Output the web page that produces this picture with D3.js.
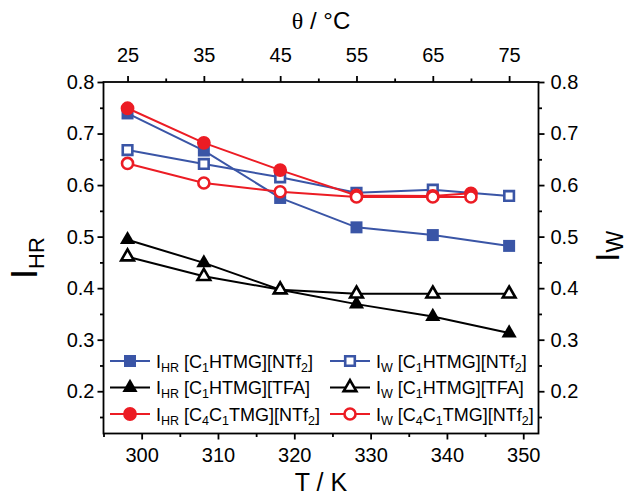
<!DOCTYPE html>
<html><head><meta charset="utf-8">
<script src="https://cdn.jsdelivr.net/npm/d3@7"></script>
<style>
html,body{margin:0;padding:0;background:#fff;}
svg{display:block;font-family:"Liberation Sans",Arial,Helvetica,sans-serif;}
</style></head>
<body>
<svg id="chart" width="630" height="498"></svg>
<script>
// ---- data ----
const tempK = [298.15, 308.15, 318.15, 328.15, 338.15, 348.15];
const tempKRed = [298.15, 308.15, 318.15, 328.15, 338.15, 343.15];
const ihrC1NTf2 = [0.739, 0.667, 0.575, 0.518, 0.503, 0.482];
const iwC1NTf2  = [0.668, 0.641, 0.615, 0.585, 0.591, 0.579];
const ihrC1TFA  = [0.494, 0.449, 0.397, 0.369, 0.345, 0.313];
const iwC1TFA   = [0.461, 0.423, 0.397, 0.389, 0.389, 0.389];
const ihrC4NTf2 = [0.749, 0.682, 0.629, 0.580, 0.579, 0.584];
const iwC4NTf2  = [0.642, 0.604, 0.587, 0.577, 0.577, 0.577];

const xTicksK = [300, 310, 320, 330, 340, 350];
const xMinorK = [295, 305, 315, 325, 335, 345];
const xTicksC = [25, 35, 45, 55, 65, 75];
const xMinorC = [30, 40, 50, 60, 70];
const yTicks = [0.2, 0.3, 0.4, 0.5, 0.6, 0.7, 0.8];
const yMinor = [0.15, 0.25, 0.35, 0.45, 0.55, 0.65, 0.75];

// legend labels: [text, isSubscript]
const labC1NTf2 = [["[C"],["1",1],["HTMG][NTf"],["2",1],["]"]];
const labC1TFA  = [["[C"],["1",1],["HTMG][TFA]"]];
const labC4NTf2 = [["[C"],["4",1],["C"],["1",1],["TMG][NTf"],["2",1],["]"]];

const BLUE = "#3a55a6", RED = "#ec1c24", BLACK = "#000";

const series = [
  {x: tempK, y: ihrC1NTf2, color: BLUE, sym: d3.symbolSquare, filled: true, pre: [["I"],["HR",1],[" "]], lab: labC1NTf2, col: 0, row: 0},
  {x: tempK, y: iwC1NTf2, color: BLUE, sym: d3.symbolSquare, filled: false, pre: [["I"],["W",1],[" "]], lab: labC1NTf2, col: 1, row: 0},
  {x: tempK, y: ihrC1TFA, color: BLACK, sym: d3.symbolTriangle, filled: true, pre: [["I"],["HR",1],[" "]], lab: labC1TFA, col: 0, row: 1},
  {x: tempK, y: iwC1TFA, color: BLACK, sym: d3.symbolTriangle, filled: false, pre: [["I"],["W",1],[" "]], lab: labC1TFA, col: 1, row: 1},
  {x: tempKRed, y: ihrC4NTf2, color: RED, sym: d3.symbolCircle, filled: true, pre: [["I"],["HR",1],[" "]], lab: labC4NTf2, col: 0, row: 2},
  {x: tempKRed, y: iwC4NTf2, color: RED, sym: d3.symbolCircle, filled: false, pre: [["I"],["W",1],[" "]], lab: labC4NTf2, col: 1, row: 2},
];

// ---- layout ----
const L = 103.5, R = 538.5, T = 82, B = 433.5;
const svg = d3.select("#chart");
const x = d3.scaleLinear().domain([295, 352]).range([L, R]);
const xC = d3.scaleLinear().domain([295 - 273.15, 352 - 273.15]).range([L, R]);
const y = d3.scaleLinear().domain([0.118, 0.8]).range([B, T]);

function symSize(s, filled) {
  if (s === d3.symbolSquare) return filled ? 144 : 92;
  if (s === d3.symbolTriangle) return filled ? 100 : 70;
  return filled ? 150 : 96;
}

function rich(sel, parts, fs, subFs, subDy) {
  let shifted = false;
  parts.forEach(p => {
    const t = sel.append("tspan").text(p[0]);
    if (p[1]) {
      t.attr("font-size", subFs);
      if (!shifted) { t.attr("dy", subDy); shifted = true; }
    } else {
      t.attr("font-size", fs);
      if (shifted) { t.attr("dy", -subDy); shifted = false; }
    }
  });
}

// axes
const axW = 1.8;
function styleAxis(g) {
  g.select(".domain").remove();
  g.selectAll("line").attr("stroke", "#000").attr("stroke-width", axW);
  g.selectAll("text").attr("font-size", 20).attr("fill", "#000").attr("font-family", "'Liberation Sans',Arial,sans-serif");
}
const fmtY = d3.format(".1f");

svg.append("g").attr("transform", `translate(0,${B})`)
  .call(d3.axisBottom(x).tickValues(xTicksK).tickSize(6).tickPadding(8).tickFormat(d3.format("d"))).call(styleAxis);
svg.append("g").attr("transform", `translate(0,${B})`)
  .call(d3.axisBottom(x).tickValues(xMinorK).tickSize(3.5).tickFormat("")).call(styleAxis);

svg.append("g").attr("transform", `translate(0,${T})`)
  .call(d3.axisTop(xC).tickValues(xTicksC).tickSize(6).tickPadding(14).tickFormat(d3.format("d"))).call(styleAxis);
svg.append("g").attr("transform", `translate(0,${T})`)
  .call(d3.axisTop(xC).tickValues(xMinorC).tickSize(3.5).tickFormat("")).call(styleAxis);

svg.append("g").attr("transform", `translate(${L},0)`)
  .call(d3.axisLeft(y).tickValues(yTicks).tickSize(6).tickPadding(3).tickFormat(fmtY)).call(styleAxis);
svg.append("g").attr("transform", `translate(${L},0)`)
  .call(d3.axisLeft(y).tickValues(yMinor).tickSize(3.5).tickFormat("")).call(styleAxis);

svg.append("g").attr("transform", `translate(${R},0)`)
  .call(d3.axisRight(y).tickValues(yTicks).tickSize(6).tickPadding(6).tickFormat(fmtY)).call(styleAxis);
svg.append("g").attr("transform", `translate(${R},0)`)
  .call(d3.axisRight(y).tickValues(yMinor).tickSize(3.5).tickFormat("")).call(styleAxis);

// frame
svg.append("rect").attr("x", L).attr("y", T).attr("width", R - L).attr("height", B - T)
  .attr("fill", "none").attr("stroke", "#000").attr("stroke-width", axW);

// series
const line = d3.line().x(d => x(d[0])).y(d => y(d[1]));
series.forEach(s => {
  const pts = s.x.map((v, i) => [v, s.y[i]]);
  svg.append("path").datum(pts).attr("d", line).attr("fill", "none")
    .attr("stroke", s.color).attr("stroke-width", 2);
  svg.append("g").selectAll("path").data(pts).join("path")
    .attr("transform", d => `translate(${x(d[0])},${y(d[1])})`)
    .attr("d", d3.symbol(s.sym, symSize(s.sym, s.filled)))
    .attr("fill", s.filled ? s.color : "#fff")
    .attr("stroke", s.filled ? "none" : s.color)
    .attr("stroke-width", 2.6);
});

// legend
const rowY = [361, 387.5, 414];
const colX = [110, 330];
series.forEach(s => {
  const lx = colX[s.col], ly = rowY[s.row];
  const g = svg.append("g");
  g.append("line").attr("x1", lx).attr("x2", lx + 40).attr("y1", ly).attr("y2", ly)
    .attr("stroke", s.color).attr("stroke-width", 2);
  g.append("path").attr("transform", `translate(${lx + 20},${ly})`)
    .attr("d", d3.symbol(s.sym, symSize(s.sym, s.filled)))
    .attr("fill", s.filled ? s.color : "#fff")
    .attr("stroke", s.filled ? "none" : s.color).attr("stroke-width", 2.6);
  const t = g.append("text").attr("x", lx + 46).attr("y", ly + 6.5).attr("fill", "#000");
  rich(t, s.pre.concat(s.lab), 18, 12.5, 4);
});

// axis titles
const topTitle = svg.append("text").attr("x", (L + R) / 2).attr("y", 29).attr("text-anchor", "middle").attr("font-size", 24);
topTitle.append("tspan").attr("font-family", "'Liberation Serif','Times New Roman',serif").text("θ");
topTitle.append("tspan").text(" / °C");

svg.append("text").attr("x", (L + R) / 2).attr("y", 491).attr("text-anchor", "middle")
  .attr("font-size", 25).text("T / K");

const leftTitle = svg.append("text").attr("transform", "translate(37,279) rotate(-90)");
rich(leftTitle, [["I"],["HR",1]], 36, 22, 7);

const rightTitle = svg.append("text").attr("transform", "translate(619,262) rotate(-90)");
rich(rightTitle, [["I"],["W",1]], 34, 23, 4);
</script>
</body></html>
